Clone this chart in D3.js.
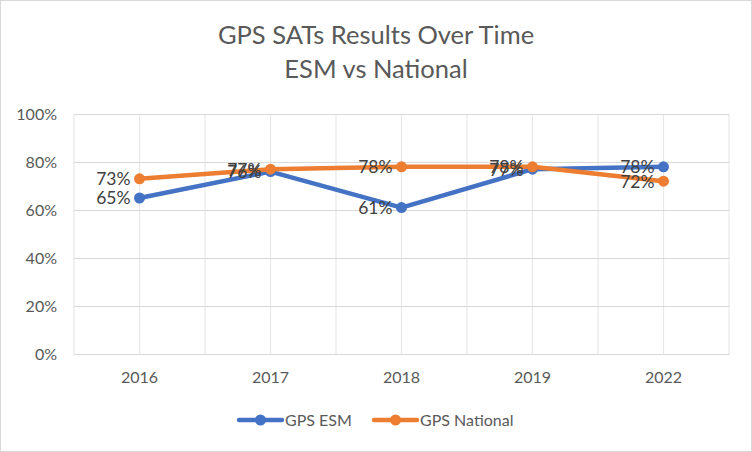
<!DOCTYPE html>
<html>
<head>
<meta charset="utf-8">
<script src="https://cdn.jsdelivr.net/npm/d3@7"></script>
<style>
  body { margin: 0; background: #fff; }
  text { font-family: Lato, "Open Sans", sans-serif; }
</style>
</head>
<body>
<div id="chart-area"></div>
<script>
const years = ["2016", "2017", "2018", "2019", "2022"];
const esm = [0.65, 0.76, 0.61, 0.77, 0.78];
const national = [0.73, 0.77, 0.78, 0.78, 0.72];
const yTicks = [0, 0.2, 0.4, 0.6, 0.8, 1.0];

const WIDTH = 752, HEIGHT = 452;
const plot = { left: 74, right: 729, top: 114, bottom: 354 };

const svg = d3.select("#chart-area").append("svg").attr("width", WIDTH).attr("height", HEIGHT);

svg.append("rect").attr("x", 0.5).attr("y", 0.5).attr("width", WIDTH - 1).attr("height", HEIGHT - 1)
    .attr("fill", "#fff").attr("stroke", "#d9d9d9");

// title
svg.append("text").attr("x", 376).attr("y", 44).attr("text-anchor", "middle")
    .attr("font-size", "25.5px").attr("fill", "#595959").text("GPS SATs Results Over Time");
svg.append("text").attr("x", 376).attr("y", 78).attr("text-anchor", "middle")
    .attr("font-size", "25.5px").attr("fill", "#595959").text("ESM vs National");

var x = d3.scaleBand().domain(years).range([plot.left, plot.right]);
var y = d3.scaleLinear().domain([0, 1]).range([plot.bottom, plot.top]);
const cx = d => x(d) + x.bandwidth() / 2;

// vertical gridlines at category centres and boundaries
const vLines = [];
years.forEach(d => { vLines.push(x(d)); vLines.push(cx(d)); });
vLines.push(plot.right);
svg.append("g").selectAll("line").data(vLines).enter().append("line")
    .attr("x1", d => d).attr("x2", d => d).attr("y1", plot.top).attr("y2", plot.bottom)
    .attr("stroke", "#e8e8e8").attr("stroke-width", 1.2);

// y axis (gridlines)
const yAxisCall = d3.axisLeft(y).tickValues(yTicks).tickFormat(d3.format(".0%"))
    .tickSize(-(plot.right - plot.left)).tickPadding(17);
const yAxisGroup = svg.append("g").attr("transform", `translate(${plot.left},0)`).call(yAxisCall);
yAxisGroup.select(".domain").remove();
yAxisGroup.selectAll("line").attr("stroke", "#d9d9d9").attr("stroke-width", 1.2);
yAxisGroup.selectAll("text").attr("font-size", "16px").attr("fill", "#595959")
    .attr("font-family", "Lato, 'Open Sans', sans-serif");

// x axis
const xAxisCall = d3.axisBottom(x).tickSize(0).tickPadding(18);
const xAxisGroup = svg.append("g").attr("transform", `translate(0,${plot.bottom})`).call(xAxisCall);
xAxisGroup.select(".domain").attr("stroke", "#d9d9d9").attr("stroke-width", 1.2);
xAxisGroup.selectAll("text").attr("font-size", "16px").attr("fill", "#595959")
    .attr("font-family", "Lato, 'Open Sans', sans-serif");

const series = [
    { name: "GPS ESM", values: esm, color: "#4472c4" },
    { name: "GPS National", values: national, color: "#ed7d31" }
];

const line = d3.line().x((d, i) => cx(years[i])).y(d => y(d));

series.forEach(s => {
    const g = svg.append("g");
    g.append("path").datum(s.values).attr("d", line).attr("fill", "none")
        .attr("stroke", s.color).attr("stroke-width", 4.5).attr("stroke-linejoin", "round");
    g.selectAll("circle").data(s.values).enter().append("circle")
        .attr("cx", (d, i) => cx(years[i])).attr("cy", d => y(d)).attr("r", 5.5)
        .attr("fill", s.color);
});

// data labels, left of the points
series.forEach(s => {
    svg.append("g").selectAll("text").data(s.values).enter().append("text")
        .attr("x", (d, i) => cx(years[i]) - 9).attr("y", d => y(d)).attr("dy", "0.36em")
        .attr("text-anchor", "end").attr("font-size", "17.5px").attr("fill", "#404040")
        .text(d => d3.format(".0%")(d));
});

// legend
const legend = svg.append("g");
const legendItems = [
    { x: 239, s: series[0] },
    { x: 374, s: series[1] }
];
legendItems.forEach(it => {
    legend.append("line").attr("x1", it.x).attr("x2", it.x + 43).attr("y1", 420).attr("y2", 420)
        .attr("stroke", it.s.color).attr("stroke-width", 4.5).attr("stroke-linecap", "round");
    legend.append("circle").attr("cx", it.x + 21.5).attr("cy", 420).attr("r", 5.5).attr("fill", it.s.color);
    legend.append("text").attr("x", it.x + 46).attr("y", 420).attr("dy", "0.36em")
        .attr("font-size", "16px").attr("fill", "#595959").text(it.s.name);
});
</script>
</body>
</html>
